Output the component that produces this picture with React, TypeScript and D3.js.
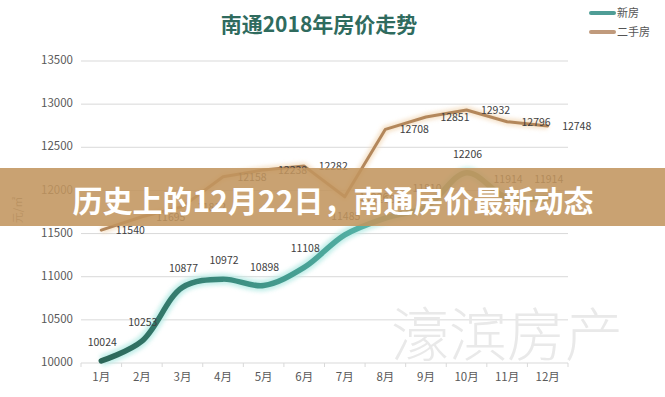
import React, { useRef, useEffect } from 'react';
import * as d3 from 'd3';

const months = ['1月', '2月', '3月', '4月', '5月', '6月', '7月', '8月', '9月', '10月', '11月', '12月'];
const newHouse = [10024, 10253, 10877, 10972, 10898, 11108, 11485, 11680, 11810, 12206, 11914, 11914];
const resale = [11540, 11695, 11812, 12158, 12238, 12282, 11926, 12708, 12851, 12932, 12796, 12748];
const yTicks = [10000, 10500, 11000, 11500, 12000, 12500, 13000, 13500];

const W = 665;
const H = 397;
const FONT = '"Noto Sans CJK SC", "Noto Sans", sans-serif';

const App: React.FC = () => {
  const svgRef = useRef<SVGSVGElement>(null);

  useEffect(() => {
    document.body.style.margin = '0';
    if (!svgRef.current) return;
    const svg = d3.select(svgRef.current);
    svg.selectAll('*').remove();

    const margin = { top: 61, right: 97, bottom: 34, left: 81 };
    const x = d3.scaleBand<string>()
      .domain(months)
      .range([margin.left, W - margin.right]);
    const y = d3.scaleLinear()
      .domain([10000, 13500])
      .range([H - margin.bottom, margin.top]);
    const cx = (m: string) => (x(m) ?? 0) + x.bandwidth() / 2;

    svg.append('rect').attr('width', W).attr('height', H).attr('fill', '#ffffff');

    const defs = svg.append('defs');
    const glow = defs.append('filter').attr('id', 'glow')
      .attr('x', '-10%').attr('y', '-30%').attr('width', '120%').attr('height', '160%');
    glow.append('feGaussianBlur').attr('stdDeviation', 2);
    const grad = defs.append('linearGradient').attr('id', 'tealGrad')
      .attr('gradientUnits', 'userSpaceOnUse')
      .attr('x1', cx('1月')).attr('x2', cx('12月')).attr('y1', 0).attr('y2', 0);
    grad.append('stop').attr('offset', '0%').attr('stop-color', '#2c6658');
    grad.append('stop').attr('offset', '35%').attr('stop-color', '#3f9588');
    grad.append('stop').attr('offset', '60%').attr('stop-color', '#56b3a8');
    grad.append('stop').attr('offset', '100%').attr('stop-color', '#8aa35e');

    // Title
    svg.append('text')
      .attr('x', 319).attr('y', 32)
      .attr('text-anchor', 'middle')
      .attr('font-family', FONT)
      .attr('font-size', 21)
      .attr('font-weight', 'bold')
      .attr('fill', '#2f6b5e')
      .text('南通2018年房价走势');

    // Legend
    const legend = [
      { name: '新房', color: '#4f9d96', y: 13 },
      { name: '二手房', color: '#c09a7c', y: 32 },
    ];
    legend.forEach(l => {
      svg.append('line')
        .attr('x1', 591).attr('x2', 614).attr('y1', l.y).attr('y2', l.y)
        .attr('stroke', l.color).attr('stroke-width', 4).attr('stroke-linecap', 'round');
      svg.append('text')
        .attr('x', 617).attr('y', l.y + 4)
        .attr('font-family', FONT).attr('font-size', 11).attr('fill', '#555')
        .text(l.name);
    });

    // Grid + y labels
    yTicks.forEach(t => {
      svg.append('line')
        .attr('x1', margin.left).attr('x2', W - margin.right)
        .attr('y1', y(t)).attr('y2', y(t))
        .attr('stroke', '#d9d9d9').attr('stroke-width', 1);
      svg.append('text')
        .attr('x', 73).attr('y', y(t))
        .attr('text-anchor', 'end').attr('dominant-baseline', 'middle')
        .attr('font-family', FONT).attr('font-size', 11.5).attr('fill', '#595959')
        .text(t);
    });

    // x axis ticks and labels
    const axisY = y(10000);
    d3.range(months.length + 1).forEach(i => {
      const xx = margin.left + i * x.step();
      svg.append('line')
        .attr('x1', xx).attr('x2', xx).attr('y1', axisY).attr('y2', axisY + 4)
        .attr('stroke', '#d9d9d9');
    });
    months.forEach(m => {
      svg.append('text')
        .attr('x', cx(m)).attr('y', axisY + 18)
        .attr('text-anchor', 'middle')
        .attr('font-family', FONT).attr('font-size', 11.5).attr('fill', '#595959')
        .text(m);
    });

    // y axis title
    svg.append('text')
      .attr('transform', `translate(22, 210) rotate(-90)`)
      .attr('text-anchor', 'middle')
      .attr('font-family', FONT).attr('font-size', 11).attr('fill', '#7f7f7f')
      .text('元/㎡');

    // Watermark
    svg.append('text')
      .attr('x', 507).attr('y', 356)
      .attr('text-anchor', 'middle')
      .attr('font-family', FONT).attr('font-size', 58).attr('font-weight', 300)
      .attr('fill', '#e9e9e9')
      .text('濠滨房产');

    // Resale line
    const lineR = d3.line<number>()
      .x((_, i) => cx(months[i]))
      .y(d => y(d));
    svg.append('path').datum(resale)
      .attr('d', lineR).attr('fill', 'none')
      .attr('stroke', '#f3d9b8').attr('stroke-width', 7).attr('opacity', 0.8)
      .attr('stroke-linejoin', 'round')
      .attr('filter', 'url(#glow)');
    svg.append('path').datum(resale)
      .attr('d', lineR).attr('fill', 'none')
      .attr('stroke', '#b3875b').attr('stroke-width', 3)
      .attr('stroke-linejoin', 'round').attr('stroke-linecap', 'round');

    // New house line
    const lineN = d3.line<number>()
      .x((_, i) => cx(months[i]))
      .y(d => y(d))
      .curve(d3.curveCatmullRom.alpha(0.5));
    svg.append('path').datum(newHouse)
      .attr('d', lineN).attr('fill', 'none')
      .attr('stroke', '#b9ece6').attr('stroke-width', 11).attr('opacity', 0.9)
      .attr('filter', 'url(#glow)');
    svg.append('path').datum(newHouse)
      .attr('d', lineN).attr('fill', 'none')
      .attr('stroke', 'url(#tealGrad)').attr('stroke-width', 5.5)
      .attr('stroke-linecap', 'round');

    // Labels
    newHouse.forEach((v, i) => {
      svg.append('text')
        .attr('x', cx(months[i]) + 1).attr('y', y(v) - 15)
        .attr('text-anchor', 'middle')
        .attr('font-family', FONT).attr('font-size', 10.5).attr('fill', '#404040')
        .text(v);
    });
    resale.forEach((v, i) => {
      svg.append('text')
        .attr('x', cx(months[i]) + 29).attr('y', y(v) + 4)
        .attr('text-anchor', 'middle')
        .attr('font-family', FONT).attr('font-size', 10.5).attr('fill', '#404040')
        .text(v);
    });

    // Banner overlay
    svg.append('rect')
      .attr('x', 0).attr('y', 168).attr('width', W).attr('height', 58)
      .attr('fill', '#c2955f').attr('opacity', 0.88);
    svg.append('text')
      .attr('x', 333).attr('y', 212)
      .attr('text-anchor', 'middle')
      .attr('font-family', FONT).attr('font-size', 30).attr('font-weight', 'bold')
      .attr('fill', '#ffffff')
      .text('历史上的12月22日，南通房价最新动态');
  }, []);

  return <svg ref={svgRef} width={W} height={H} style={{ display: 'block' }} />;
};

export default App;
